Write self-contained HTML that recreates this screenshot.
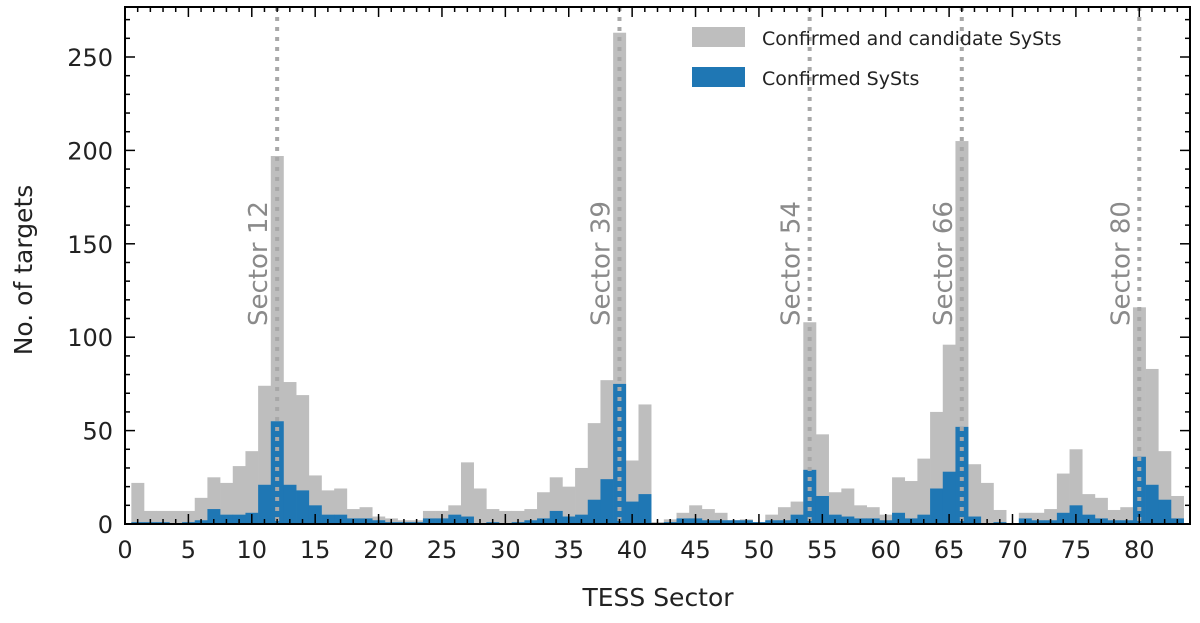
<!DOCTYPE html>
<html><head><meta charset="utf-8"><style>
body{margin:0;background:#fff;}
svg text{font-family:"DejaVu Sans","Liberation Sans",sans-serif;}
</style></head><body>
<svg id="chart" width="1200" height="618" viewBox="0 0 1200 618" xmlns="http://www.w3.org/2000/svg">
<g id="bars"></g>
<g id="markers"></g>
<g id="axes"></g>
<g>
<rect x="692" y="27" width="53" height="20" fill="#bebebe"/>
<text x="762" y="45" font-size="19" fill="#222">Confirmed and candidate SySts</text>
<rect x="692" y="67" width="53" height="20" fill="#1f77b4"/>
<text x="762" y="85" font-size="19" fill="#222">Confirmed SySts</text>
</g>
<text x="658" y="606" font-size="25" text-anchor="middle" fill="#222">TESS Sector</text>
<text transform="translate(32,270) rotate(-90)" font-size="25" text-anchor="middle" fill="#222">No. of targets</text>
</svg>
<script>
const sectors = Array.from({length:83},(_,i)=>i+1);
const allCounts = [22,7,7,7,7,14,25,22,31,39,74,197,76,69,26,18,19,8,9,4,3,2,2,7,7,10,33,19,8,7,7,8,17,25,20,30,54,77,263,34,64,1,2.5,6,10,8,6,2,2.5,1,5,9,12,108,48,17,19,10,9,5,25,23,35,60,96,205,32,22,7.5,0,6,6,8,27,40,16,14,7.5,9,116,83,39,15];
const confirmedCounts = [1,1,1,0,1,2,8,5,5,6,21,55,21,18,10,5,5,3,3,2,1,1,1,3,3,5,4,0,1,0,1,2,3,7,4,5,13,24,75,12,16,0,1,3,3,2,2,2,2,1,2,2,5,29,15,5,4,3,3,2,6,3,5,19,28,52,4,0,1,0,3,2,2,6,10,5,3,2,2,36,21,13,3];
const markedSectors = [12,39,54,66,80];
const xTicks = [0,5,10,15,20,25,30,35,40,45,50,55,60,65,70,75,80];
const yTicks = [0,50,100,150,200,250];
const X0=125,X1=1190,Y0=524,Y1=7,XMAX=84,YPX=1.868;
const sx=v=>X0+(X1-X0)*v/XMAX;
const sy=v=>Y0-v*YPX;
const NS='http://www.w3.org/2000/svg';
function mk(tag,attrs,parent){const e=document.createElementNS(NS,tag);for(const k in attrs)e.setAttribute(k,attrs[k]);parent.appendChild(e);return e;}
const bars=document.getElementById('bars');
sectors.forEach((s,i)=>{
  const a=allCounts[i];
  const r=mk('rect',{x:sx(s-0.5),y:sy(a),width:sx(s+0.5)-sx(s-0.5)+0.3,height:Y0-sy(a),fill:'#bebebe'},bars);
  
  
});
sectors.forEach((s,i)=>{
  const c=confirmedCounts[i];
  const r=mk('rect',{x:sx(s-0.5),y:sy(c),width:sx(s+0.5)-sx(s-0.5)+0.3,height:Y0-sy(c),fill:'#1f77b4'},bars);
  
  
});
const mg=document.getElementById('markers');
markedSectors.forEach(s=>{
  const l=mk('line',{x1:sx(s),x2:sx(s),y1:Y1,y2:Y0,stroke:'#a8a8a8','stroke-width':4,'stroke-dasharray':'4 6'},mg);
  
  
  const t=mk('text',{transform:`translate(${sx(s)-10},326) rotate(-90)`,'font-size':26,fill:'#8a8a8a'},mg);
  t.textContent='Sector '+s;
  
  
});
const ax=document.getElementById('axes');
const fr=mk('rect',{x:X0,y:Y1,width:X1-X0,height:Y0-Y1,fill:'none',stroke:'#000','stroke-width':2},ax);


for(let v=0;v<=XMAX;v++){
  const major=v%5===0,len=major?10:5;
  mk('line',{x1:sx(v),x2:sx(v),y1:Y0,y2:Y0-len,stroke:'#000','stroke-width':1.5},ax);
  mk('line',{x1:sx(v),x2:sx(v),y1:Y1,y2:Y1+len,stroke:'#000','stroke-width':1.5},ax);
}
xTicks.forEach(v=>{
  const t=mk('text',{x:sx(v),y:Y0+34,'font-size':24,'text-anchor':'middle',fill:'#222'},ax);
  t.textContent=v;
  
  
});
for(let v=0;v<=270;v+=10){
  if(sy(v)<Y1)break;
  const major=v%50===0,len=major?10:5;
  mk('line',{x1:X0,x2:X0+len,y1:sy(v),y2:sy(v),stroke:'#000','stroke-width':1.5},ax);
  mk('line',{x1:X1,x2:X1-len,y1:sy(v),y2:sy(v),stroke:'#000','stroke-width':1.5},ax);
}
yTicks.forEach(v=>{
  const t=mk('text',{x:X0-12,y:sy(v)+9,'font-size':24,'text-anchor':'end',fill:'#222'},ax);
  t.textContent=v;
  
  
});
</script>
</body></html>
